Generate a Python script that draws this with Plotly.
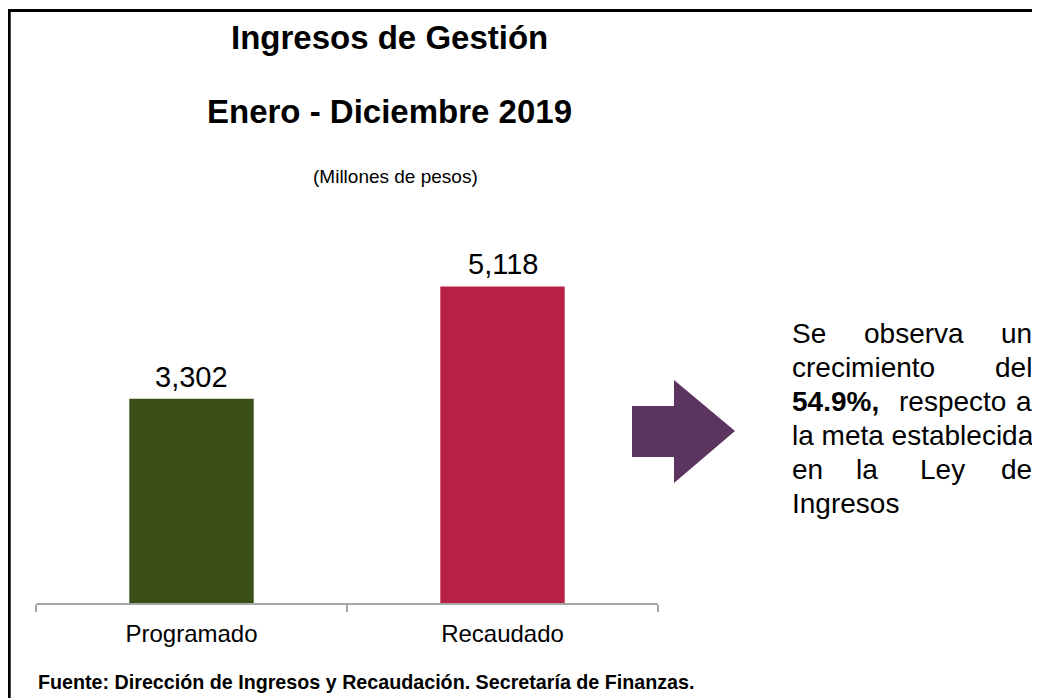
import plotly.graph_objects as go

# ---- data ----
categories = ["Programado", "Recaudado"]
values = [3302, 5118]
value_labels = ["3,302", "5,118"]
bar_colors = ["#3A5016", "#B82146"]

title_line1 = "Ingresos de Gestión"
title_line2 = "Enero - Diciembre 2019"
subtitle = "(Millones de pesos)"
footer = "Fuente: Dirección de Ingresos y Recaudación. Secretaría de Finanzas."
note_lines = [
    ["Se", "observa", "un"],
    ["crecimiento", "del"],
    ["<b>54.9%,</b>", "respecto", "a"],
    ["la meta establecida"],
    ["en", "la", "Ley", "de"],
    ["Ingresos"],
]

# ---- layout geometry (page pixels; the page body has an 8px margin) ----
OFF = 8
W, H = 1040 - OFF, 698 - OFF
PL, PR, PT, PB = 36, 658, 240, 603  # plot area edges in page pixels
FONT = "Arial, Liberation Sans, sans-serif"


def px_x(x):
    return (x - PL) / (PR - PL)


def px_y(y):
    return (PB - y) / (PB - PT)


fig = go.Figure()
fig.add_trace(go.Bar(
    x=categories, y=values, marker=dict(color=bar_colors, line=dict(width=0)),
    width=0.4, hoverinfo="skip",
))

annotations = []
for c, v, lab in zip(categories, values, value_labels):
    annotations.append(dict(x=c, y=v, xref="x", yref="y", text=lab, showarrow=False,
                            yanchor="bottom", yshift=4,
                            font=dict(family=FONT, size=29, color="#000000")))

annotations += [
    dict(x=px_x(389), y=px_y(37), text="<b>" + title_line1 + "</b>",
         font=dict(family=FONT, size=33, color="#000")),
    dict(x=px_x(389), y=px_y(111), text="<b>" + title_line2 + "</b>",
         font=dict(family=FONT, size=33, color="#000")),
    dict(x=px_x(395), y=px_y(176), text=subtitle,
         font=dict(family=FONT, size=19, color="#000")),
    dict(x=px_x(36), y=px_y(682), text="<b>" + footer + "</b>", xanchor="left",
         font=dict(family=FONT, size=19.7, color="#000")),
]

TL, TR = 790, 1034
line_y0, line_dy = 333, 34
pos_map = {
    "Se": [("left", TL), ("center", 914), ("right", TR)],
    "crecimiento": [("left", TL), ("right", TR)],
    "<b>54.9%,</b>": [("left", TL), ("center", 952), ("right", TR)],
    "en": [("left", TL), ("center", 867), ("center", 942), ("right", TR)],
}
for i, words in enumerate(note_lines):
    yy = px_y(line_y0 + i * line_dy)
    if len(words) == 1:
        annotations.append(dict(x=px_x(TL), y=yy, text=words[0], xanchor="left"))
    else:
        for w, (anc, xp) in zip(words, pos_map[words[0]]):
            annotations.append(dict(x=px_x(xp), y=yy, text=w, xanchor=anc))

for a in annotations:
    a.setdefault("xref", "paper")
    a.setdefault("yref", "paper")
    a.setdefault("showarrow", False)
    a.setdefault("yanchor", "middle")
    a.setdefault("font", dict(family=FONT, size=28, color="#000"))

arrow_px = [(632, 406), (674, 406), (674, 380), (735, 431), (674, 483), (674, 457), (632, 457)]
path = "M " + " L ".join(f"{px_x(x):.5f},{px_y(y):.5f}" for x, y in arrow_px) + " Z"

shapes = [
    dict(type="path", xref="paper", yref="paper", path=path,
         fillcolor="#5C3460", line=dict(width=0)),
    dict(type="rect", xref="paper", yref="paper",
         x0=px_x(OFF + 1.2), x1=px_x(1070), y0=px_y(OFF + 2.5), y1=px_y(730),
         line=dict(color="#000", width=3), fillcolor="rgba(0,0,0,0)"),
]

fig.update_layout(
    width=W, height=H,
    margin=dict(l=PL - OFF, r=(W + OFF) - PR, t=PT - OFF, b=(H + OFF) - PB, pad=0),
    paper_bgcolor="white", plot_bgcolor="white",
    showlegend=False,
    annotations=annotations,
    shapes=shapes,
    font=dict(family=FONT, color="#000"),
    xaxis=dict(
        type="category", tickson="boundaries", ticks="outside", ticklen=7,
        tickcolor="#A6A6A6", tickwidth=1.5, showline=True, linecolor="#A6A6A6", linewidth=1.5,
        showgrid=False, tickfont=dict(family=FONT, size=24, color="#000"),
        ticklabelstandoff=8,
        range=[-0.5, 1.5], fixedrange=True,
    ),
    yaxis=dict(range=[0, 5868], visible=False, showgrid=False, zeroline=False, fixedrange=True),
)

fig.write_html("out.html")
